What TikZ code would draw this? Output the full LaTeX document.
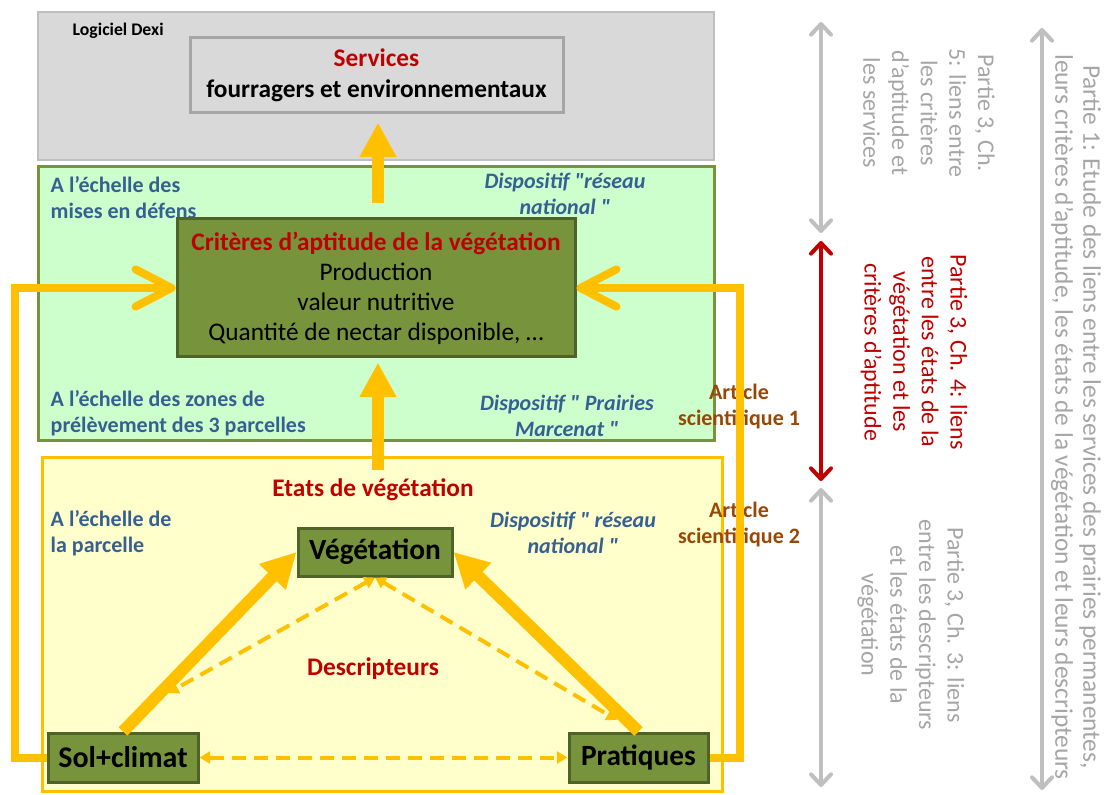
\documentclass[tikz,border=0pt]{standalone}
\usepackage{fontspec}
\setmainfont{Carlito}
\newfontfamily\qfont{Carlito}
\usetikzlibrary{arrows.meta}
\definecolor{orng}{HTML}{FFC000}
\definecolor{olivefill}{HTML}{77933C}
\definecolor{oliveedge}{HTML}{4F6228}
\definecolor{ltgreen}{HTML}{CCFFCC}
\definecolor{greenedge}{HTML}{77933C}
\definecolor{ltyellow}{HTML}{FFFFCC}
\definecolor{boxgray}{HTML}{D9D9D9}
\definecolor{edgegray}{HTML}{BFBFBF}
\definecolor{servedge}{HTML}{A6A6A6}
\definecolor{dkred}{HTML}{C00000}
\definecolor{bluelab}{HTML}{376092}
\definecolor{brownlab}{HTML}{984806}
\definecolor{txtgray}{HTML}{A6A6A6}
\definecolor{arrgray}{HTML}{BFBFBF}
\newcommand{\dq}{{\qfont"}}
\begin{document}
\begin{tikzpicture}[x=0.75pt,y=-0.75pt,
  olivebox/.style={draw=oliveedge,fill=olivefill,line width=2.25pt,inner sep=0pt},
  servbox/.style={draw=servedge,fill=boxgray,line width=2.25pt,inner sep=0pt,align=center},
  bluetxt/.style={text=bluelab,font=\bfseries\fontsize{16.5}{19.5}\selectfont},
  disptxt/.style={text=bluelab,font=\bfseries\itshape\fontsize{16.5}{19.5}\selectfont,align=center},
  arttxt/.style={text=brownlab,font=\bfseries\fontsize{16.5}{19.5}\selectfont,align=center},
  redtitle/.style={text=dkred,font=\bfseries\fontsize{19}{22.5}\selectfont},
  vtxt/.style={rotate=-90,align=center,font=\fontsize{18}{21.5}\selectfont},
  fatarrow/.style={draw=orng,line width=9pt,-{Triangle[length=26pt,width=26pt]}},
  loopline/.style={draw=orng,line width=6pt,-{Straight Barb[length=27pt,width=28pt,round]}},
  dashline/.style={draw=orng,line width=3pt,dash pattern=on 10.5pt off 6pt,{Triangle[length=8pt,width=9pt]}-{Triangle[length=8pt,width=9pt]}},
  sidearrow/.style={line width=3pt,{Straight Barb[length=8pt,width=15pt,round]}-{Straight Barb[length=8pt,width=15pt,round]}}
]
\useasboundingbox (0,0) rectangle (1108,795);
\fill[white] (0,0) rectangle (1108,795);

% background frames
\draw[edgegray,fill=boxgray,line width=1.5pt] (38,12) rectangle (714,160);
\draw[greenedge,fill=ltgreen,line width=2.25pt] (38,167) rectangle (714,440);
\draw[orng,fill=ltyellow,line width=2.25pt] (42,457) rectangle (722,791);

% top
\node[anchor=west,font=\bfseries\fontsize{13.3}{15}\selectfont] (dexi) at (68,31) {Logiciel Dexi};
\node[servbox,minimum width=279.75pt,minimum height=56.25pt,font=\bfseries\fontsize{19}{23.25}\selectfont] (serv) at (376.5,75.5)
  {\textcolor{dkred}{Services}\\fourragers et environnementaux};

% green level
\node[bluetxt,anchor=west,align=left] (ech1) at (46,198) {A l’échelle des\\mises en défens};
\node[disptxt] (disp1) at (565,194) {Dispositif \dq réseau\\national \dq};
\node[olivebox,minimum width=298.5pt,minimum height=103.5pt,align=center,font=\fontsize{19}{22.5}\selectfont] (crit) at (376,288)
  {\textcolor{dkred}{\bfseries Critères d’aptitude de la végétation}\\Production\\valeur nutritive\\Quantité de nectar disponible, …};
\node[bluetxt,anchor=west,align=left] (ech2) at (46,413) {A l’échelle des zones de\\prélèvement des 3 parcelles};
\node[disptxt] (disp2) at (567,416) {Dispositif \dq{} Prairies\\Marcenat \dq};
\node[arttxt] (art1) at (739,406) {Article\\scientifique 1};
\node[arttxt] (art2) at (739,524) {Article\\scientifique 2};

% yellow level
\node[redtitle] (etats) at (373,490) {Etats de végétation};
\node[bluetxt,anchor=west,align=left] (ech3) at (46,533) {A l’échelle de\\la parcelle};
\node[disptxt] (disp3) at (573,533) {Dispositif \dq{} réseau\\national \dq};
\node[olivebox,minimum width=115.5pt,minimum height=36pt,font=\bfseries\fontsize{22}{24}\selectfont] (veg) at (375,552) {Végétation};
\node[olivebox,minimum width=112.5pt,minimum height=36.75pt,font=\bfseries\fontsize{22.5}{24}\selectfont] (sol) at (123,757.5) {Sol+climat};
\node[olivebox,minimum width=104.25pt,minimum height=36.75pt,font=\bfseries\fontsize{22}{24}\selectfont] (prat) at (638.5,757.5) {Pratiques};
\node[redtitle] (desc) at (373,669) {Descripteurs};

% orange arrows
\coordinate (u1) at (378,203);
\coordinate (u2) at (378,470);
\draw[fatarrow,shorten >=6pt] (u1) -- (serv.south -| u1);
\draw[fatarrow,shorten >=3pt] (u2) -- (crit.south -| u2);
\draw[fatarrow] (sol.north) -- (veg.west);
\draw[fatarrow] (prat.north) -- (veg.east);
\draw[loopline] (sol.west) -- ++(-32,0) |- (crit.west);
\draw[loopline] (prat.east) -- ++(30,0) |- (crit.east);
\coordinate (dl) at (168,693);
\coordinate (dr) at (617,720);
\draw[dashline] (veg.south) -- (dl);
\draw[dashline] (veg.south) -- (dr);
\draw[dashline] (sol.east) -- (prat.west);

% right side arrows
\coordinate (g1t) at (821,22);
\coordinate (g1b) at (821,233);
\coordinate (r1t) at (821,241);
\coordinate (r1b) at (821,481);
\coordinate (g2t) at (821,488);
\coordinate (g2b) at (821,787);
\coordinate (g3t) at (1042,28);
\coordinate (g3b) at (1042,790);
\draw[sidearrow,arrgray] (g1t) -- (g1b);
\draw[sidearrow,dkred] (r1t) -- (r1b);
\draw[sidearrow,arrgray] (g2t) -- (g2b);
\draw[sidearrow,arrgray] (g3t) -- (g3b);

% rotated texts
\node[vtxt,text=txtgray] (ta) at (929,113) {Partie 3, Ch.\\5: liens entre\\les critères\\d’aptitude et\\les services};
\node[vtxt,text=dkred] (tb) at (914,352) {Partie 3, Ch. 4: liens\\entre les états de la\\végétation et les\\critères d’aptitude};
\node[vtxt,text=txtgray] (tc) at (911,625) {Partie 3, Ch. 3: liens\\entre les descripteurs\\et les états de la\\végétation};
\node[vtxt,text=txtgray,font=\fontsize{19}{21}\selectfont] (td) at (1076,417) {Partie 1: Etude des liens entre les services des prairies permanentes,\\leurs critères d’aptitude, les états de la végétation et leurs descripteurs};
\end{tikzpicture}
\end{document}
